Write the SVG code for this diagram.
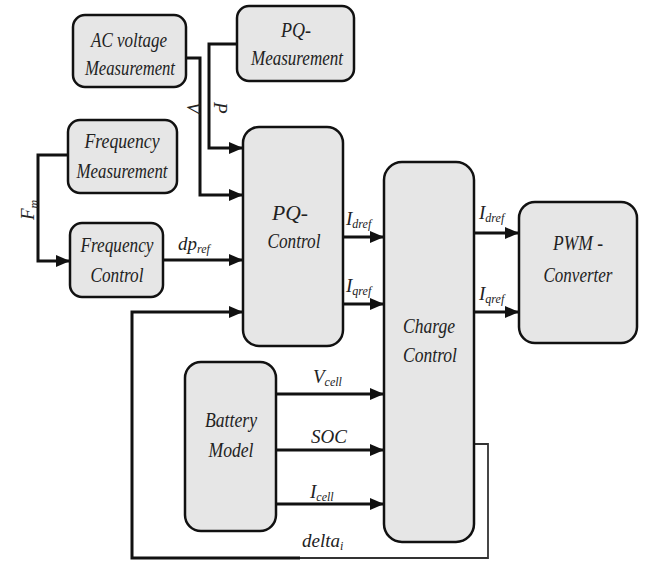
<svg xmlns="http://www.w3.org/2000/svg" width="645" height="561" viewBox="0 0 645 561">
<style>
.box{fill:#e6e6e6;stroke:#111;stroke-width:2.5}
.t{font-family:'Liberation Serif','Times New Roman','DejaVu Serif',serif;font-style:italic;font-size:21px;fill:#222;text-anchor:middle}
.l{font-family:'Liberation Serif','Times New Roman','DejaVu Serif',serif;font-style:italic;font-size:19px;fill:#222}
.s{font-size:12px}
.c{fill:none;stroke:#111;stroke-width:3}
.thin{fill:none;stroke:#333;stroke-width:1.8}
</style>
<defs>
<marker id="ah" markerWidth="14" markerHeight="12" refX="14" refY="6" orient="auto" markerUnits="userSpaceOnUse"><path d="M0,0 L14,6 L0,12 z" fill="#111"/></marker>
</defs>
<rect width="645" height="561" fill="#fff"/>
<g id="connectors">
<polyline class="c" points="186,58 200,58 200,195 243,195" marker-end="url(#ah)"/>
<polyline class="c" points="238,44 209,44 209,148 243,148" marker-end="url(#ah)"/>
<polyline class="c" points="68,155 38,155 38,261 70,261" marker-end="url(#ah)"/>
<polyline class="c" points="163,260 243,260" marker-end="url(#ah)"/>
<polyline class="c" points="343,237 384,237" marker-end="url(#ah)"/>
<polyline class="c" points="343,304 384,304" marker-end="url(#ah)"/>
<polyline class="c" points="474,233 519,233" marker-end="url(#ah)"/>
<polyline class="c" points="474,312 519,312" marker-end="url(#ah)"/>
<polyline class="c" points="276,394 384,394" marker-end="url(#ah)"/>
<polyline class="c" points="276,450 384,450" marker-end="url(#ah)"/>
<polyline class="c" points="276,504 384,504" marker-end="url(#ah)"/>
<polyline class="thin" points="474,444 488,444 488,558 300,558"/>
<polyline class="c" points="300,558 132,558 132,312 243,312" marker-end="url(#ah)"/>
<text class="l" transform="translate(187,102) rotate(90)">V</text>
<text class="l" transform="translate(214,102) rotate(90)">P</text>
<text class="l" transform="translate(34,220) rotate(-90)">F<tspan class="s" dy="4">m</tspan></text>
<text class="l" x="178" y="250">dp<tspan class="s" dy="3">ref</tspan></text>
<text class="l" x="346" y="225">I<tspan class="s" dy="3">dref</tspan></text>
<text class="l" x="346" y="292">I<tspan class="s" dy="3">qref</tspan></text>
<text class="l" x="479" y="219">I<tspan class="s" dy="3">dref</tspan></text>
<text class="l" x="479" y="300">I<tspan class="s" dy="3">qref</tspan></text>
<text class="l" x="313" y="383">V<tspan class="s" dy="3">cell</tspan></text>
<text class="l" x="311" y="443">SOC</text>
<text class="l" x="310" y="498">I<tspan class="s" dy="3">cell</tspan></text>
<text class="l" x="302" y="547">delta<tspan class="s" dy="3">i</tspan></text>
</g>
<g id="ac-voltage">
<rect class="box" x="73" y="15" width="113" height="72" rx="12"/>
<text class="t" x="129" y="47" textLength="76" lengthAdjust="spacingAndGlyphs">AC voltage</text>
<text class="t" x="130" y="75" textLength="90" lengthAdjust="spacingAndGlyphs">Measurement</text>
</g>
<g id="pq-measurement">
<rect class="box" x="237" y="6" width="117" height="75" rx="12"/>
<text class="t" x="296" y="37" textLength="30" lengthAdjust="spacingAndGlyphs">PQ-</text>
<text class="t" x="297" y="65" textLength="92" lengthAdjust="spacingAndGlyphs">Measurement</text>
</g>
<g id="frequency-measurement">
<rect class="box" x="68" y="120" width="109" height="73" rx="12"/>
<text class="t" x="122" y="148" textLength="75" lengthAdjust="spacingAndGlyphs">Frequency</text>
<text class="t" x="122" y="178" textLength="91" lengthAdjust="spacingAndGlyphs">Measurement</text>
</g>
<g id="frequency-control">
<rect class="box" x="70" y="223" width="93" height="74" rx="12"/>
<text class="t" x="117" y="252" textLength="73" lengthAdjust="spacingAndGlyphs">Frequency</text>
<text class="t" x="117" y="282" textLength="53" lengthAdjust="spacingAndGlyphs">Control</text>
</g>
<g id="pq-control">
<rect class="box" x="243" y="127" width="100" height="219" rx="16"/>
<text class="t" x="290" y="220" textLength="36" lengthAdjust="spacingAndGlyphs">PQ-</text>
<text class="t" x="294" y="248" textLength="53" lengthAdjust="spacingAndGlyphs">Control</text>
</g>
<g id="charge-control">
<rect class="box" x="384" y="162" width="90" height="380" rx="18"/>
<text class="t" x="429" y="333" textLength="52" lengthAdjust="spacingAndGlyphs">Charge</text>
<text class="t" x="430" y="362" textLength="54" lengthAdjust="spacingAndGlyphs">Control</text>
</g>
<g id="pwm-converter">
<rect class="box" x="519" y="202" width="118" height="141" rx="16"/>
<text class="t" x="578" y="250" textLength="50" lengthAdjust="spacingAndGlyphs">PWM -</text>
<text class="t" x="578" y="282" textLength="69" lengthAdjust="spacingAndGlyphs">Converter</text>
</g>
<g id="battery-model">
<rect class="box" x="185" y="362" width="91" height="169" rx="16"/>
<text class="t" x="231" y="427" textLength="52" lengthAdjust="spacingAndGlyphs">Battery</text>
<text class="t" x="231" y="457" textLength="45" lengthAdjust="spacingAndGlyphs">Model</text>
</g>
</svg>
